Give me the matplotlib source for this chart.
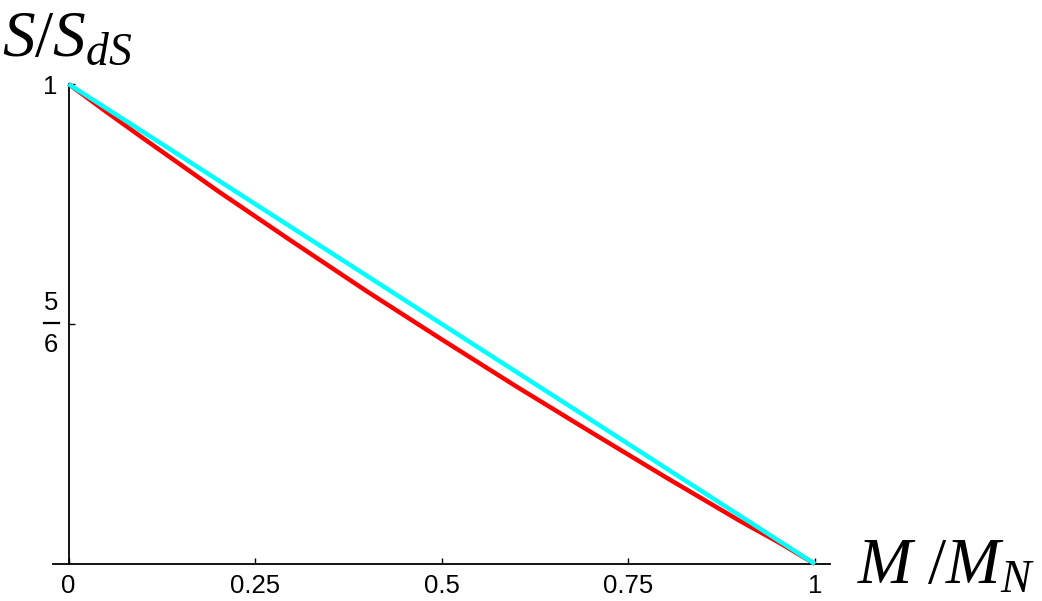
import numpy as np
import matplotlib
matplotlib.use('Agg')
import matplotlib.pyplot as plt
from matplotlib.lines import Line2D
from matplotlib.transforms import IdentityTransform

plt.rcParams['mathtext.fontset'] = 'custom'
plt.rcParams['mathtext.rm'] = 'Liberation Serif'
plt.rcParams['mathtext.it'] = 'Liberation Serif:italic'

# M / M_N on the horizontal axis
mass_ratio = [0, 0.05, 0.1, 0.2, 0.3, 0.4, 0.5, 0.6, 0.7, 0.8, 0.9, 0.95, 1.0]
# total horizon entropy over de Sitter entropy (red)
entropy_total = [1.0, 0.9809, 0.9623, 0.9257, 0.8905, 0.8559, 0.8226,
                 0.7899, 0.7582, 0.7269, 0.6964, 0.6821, 0.6667]
# straight line between the end points (cyan)
entropy_linear = [1.0, 0.9833, 0.9667, 0.9333, 0.9, 0.8667, 0.8333,
                  0.8, 0.7667, 0.7333, 0.7, 0.6833, 0.6667]

x_ticks = [0, 0.25, 0.5, 0.75, 1]
x_tick_labels = ['0', '0.25', '0.5', '0.75', '1']
y_ticks = [5 / 6, 1]

W, H = 1042, 601
fig = plt.figure(figsize=(W / 100, H / 100), dpi=100)
# axes box in pixels: left 53, right 830, top 84, bottom 564
ax = fig.add_axes([53 / W, (H - 564) / H, 777 / W, 480 / H])

ax.plot(mass_ratio, entropy_total, color='#ff0000', lw=3.2, clip_on=False,
        solid_capstyle='butt', zorder=3)
ax.plot(mass_ratio, entropy_linear, color='#00ffff', lw=3.2, clip_on=False,
        solid_capstyle='butt', zorder=4)

ax.set_xlim(-0.0208, 1.0201)
ax.set_ylim(2 / 3, 1)

for side in ['top', 'right']:
    ax.spines[side].set_visible(False)
ax.spines['left'].set_position(('data', 0))
ax.spines['left'].set_bounds(2 / 3, 1)
for side in ['left', 'bottom']:
    ax.spines[side].set_linewidth(1.3)
    ax.spines[side].set_color('black')

ax.set_xticks(x_ticks)
ax.set_xticklabels(x_tick_labels)
ax.set_yticks(y_ticks)
ax.set_yticklabels(['', '1'])
ax.tick_params(axis='both', direction='in', length=4, width=1, colors='black',
               labelsize=18.5)
ax.tick_params(axis='x', pad=7)
ax.tick_params(axis='y', pad=8)
for lab in ax.get_xticklabels() + ax.get_yticklabels():
    lab.set_family('Liberation Sans')

# stacked fraction label for 5/6
bx, by = ax.transData.transform((0, 5 / 6))
fig.add_artist(Line2D([bx - 25, bx - 9.5], [by + 1, by + 1], color='black',
                      lw=1.6, transform=IdentityTransform()))
fig.text((bx - 17.5) / W, (by + 21) / H, '5', ha='center', va='center',
         fontsize=18.5, family='Liberation Sans')
fig.text((bx - 17.5) / W, (by - 21) / H, '6', ha='center', va='center',
         fontsize=18.5, family='Liberation Sans')

fig.text(2 / W, (H - 56) / H, r'$S/S_{dS}$', fontsize=47, ha='left',
         va='baseline')
fig.text(857 / W, (H - 583) / H, r'$M\ /M_N$', fontsize=47, ha='left',
         va='baseline')

fig.savefig('out.png', dpi=100)
